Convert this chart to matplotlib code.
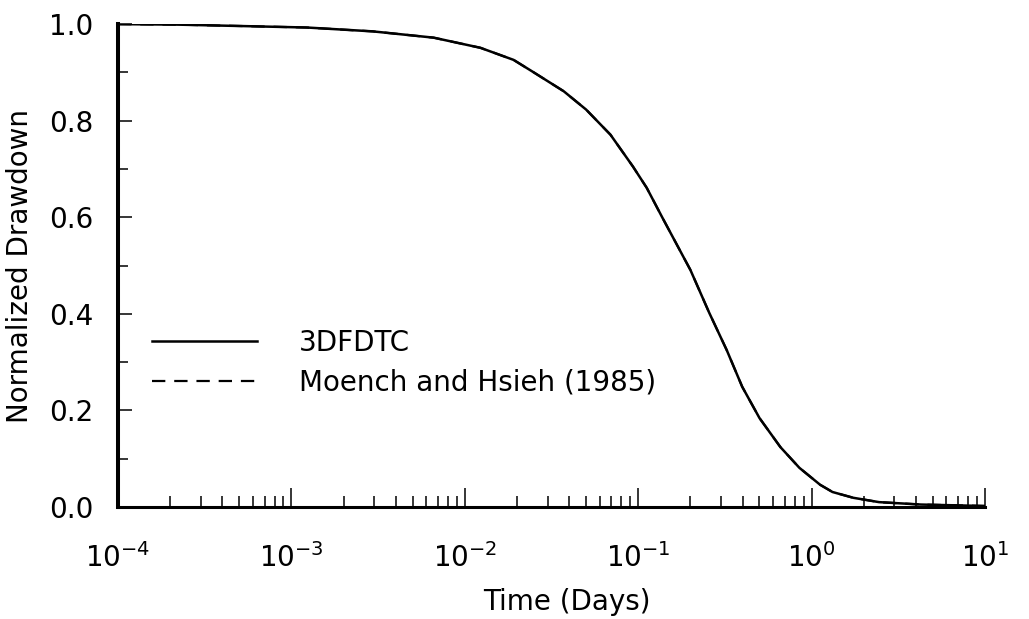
import matplotlib
matplotlib.use("Agg")
import matplotlib.pyplot as plt
from matplotlib.ticker import LogLocator, MultipleLocator, FormatStrFormatter

# values (time in days, normalized drawdown)
time_days = [1e-4, 2.19e-4, 5.25e-4, 1.23e-3, 2.95e-3, 6.61e-3, 1.23e-2, 1.91e-2,
             2.45e-2, 3.72e-2, 5.01e-2, 6.92e-2, 9.33e-2, 0.112, 0.138, 0.200,
             0.257, 0.324, 0.398, 0.501, 0.661, 0.851, 1.12, 1.32, 1.74, 2.45,
             4.27, 10.0]
drawdown_3dfdtc = [1.000, 0.999, 0.996, 0.993, 0.985, 0.972, 0.951, 0.926,
                   0.902, 0.861, 0.823, 0.771, 0.705, 0.661, 0.599, 0.491,
                   0.402, 0.325, 0.249, 0.184, 0.124, 0.081, 0.046, 0.031,
                   0.019, 0.010, 0.005, 0.002]
# analytical solution lies on top of the numerical one in the figure
drawdown_moench = [1.000, 0.999, 0.996, 0.993, 0.985, 0.972, 0.951, 0.926,
                   0.902, 0.861, 0.823, 0.771, 0.705, 0.661, 0.599, 0.491,
                   0.402, 0.325, 0.249, 0.184, 0.124, 0.081, 0.046, 0.031,
                   0.019, 0.010, 0.005, 0.002]

plt.rcParams["font.family"] = ["DejaVu Sans"]
plt.rcParams["mathtext.default"] = "regular"

fig = plt.figure(figsize=(10.29, 6.19), dpi=100)
ax = fig.add_axes([0.1147, 0.181, 0.8425, 0.780])

ax.plot(time_days, drawdown_moench, color="black", linewidth=1.6,
        linestyle=(0, (6, 4)), label="Moench and Hsieh (1985)")
ax.plot(time_days, drawdown_3dfdtc, color="black", linewidth=1.8,
        label="3DFDTC")

ax.set_xscale("log")
ax.set_xlim(1e-4, 1e1)
ax.set_ylim(0, 1.0)

ax.spines["top"].set_visible(False)
ax.spines["right"].set_visible(False)
ax.spines["left"].set_linewidth(2.9)
ax.spines["bottom"].set_linewidth(2.2)

ax.xaxis.set_major_locator(LogLocator(base=10, numticks=10))
ax.xaxis.set_minor_locator(LogLocator(base=10, subs=range(2, 10), numticks=20))
ax.yaxis.set_major_locator(MultipleLocator(0.2))
ax.yaxis.set_minor_locator(MultipleLocator(0.1))
ax.yaxis.set_major_formatter(FormatStrFormatter("%.1f"))

ax.tick_params(axis="x", which="major", direction="in", length=13.5, width=1.1,
               labelsize=20, pad=26)
ax.tick_params(axis="x", which="minor", direction="in", length=8, width=1.1)
ax.tick_params(axis="y", which="major", direction="in", length=10, width=1.1,
               labelsize=20, pad=18)
ax.tick_params(axis="y", which="minor", direction="in", length=7, width=1.1)

ax.set_xlabel("Time (Days)", fontsize=20)
ax.set_ylabel("Normalized Drawdown", fontsize=20)
ax.xaxis.set_label_coords(0.518, -0.168)
ax.yaxis.set_label_coords(-0.097, 0.5)

handles, labels = ax.get_legend_handles_labels()
ax.legend(handles[::-1], labels[::-1], loc="upper left",
          bbox_to_anchor=(0.01, 0.42), frameon=False, fontsize=20,
          handlelength=3.8, handletextpad=1.5, labelspacing=0.4)

fig.savefig("out.png", dpi=100)
